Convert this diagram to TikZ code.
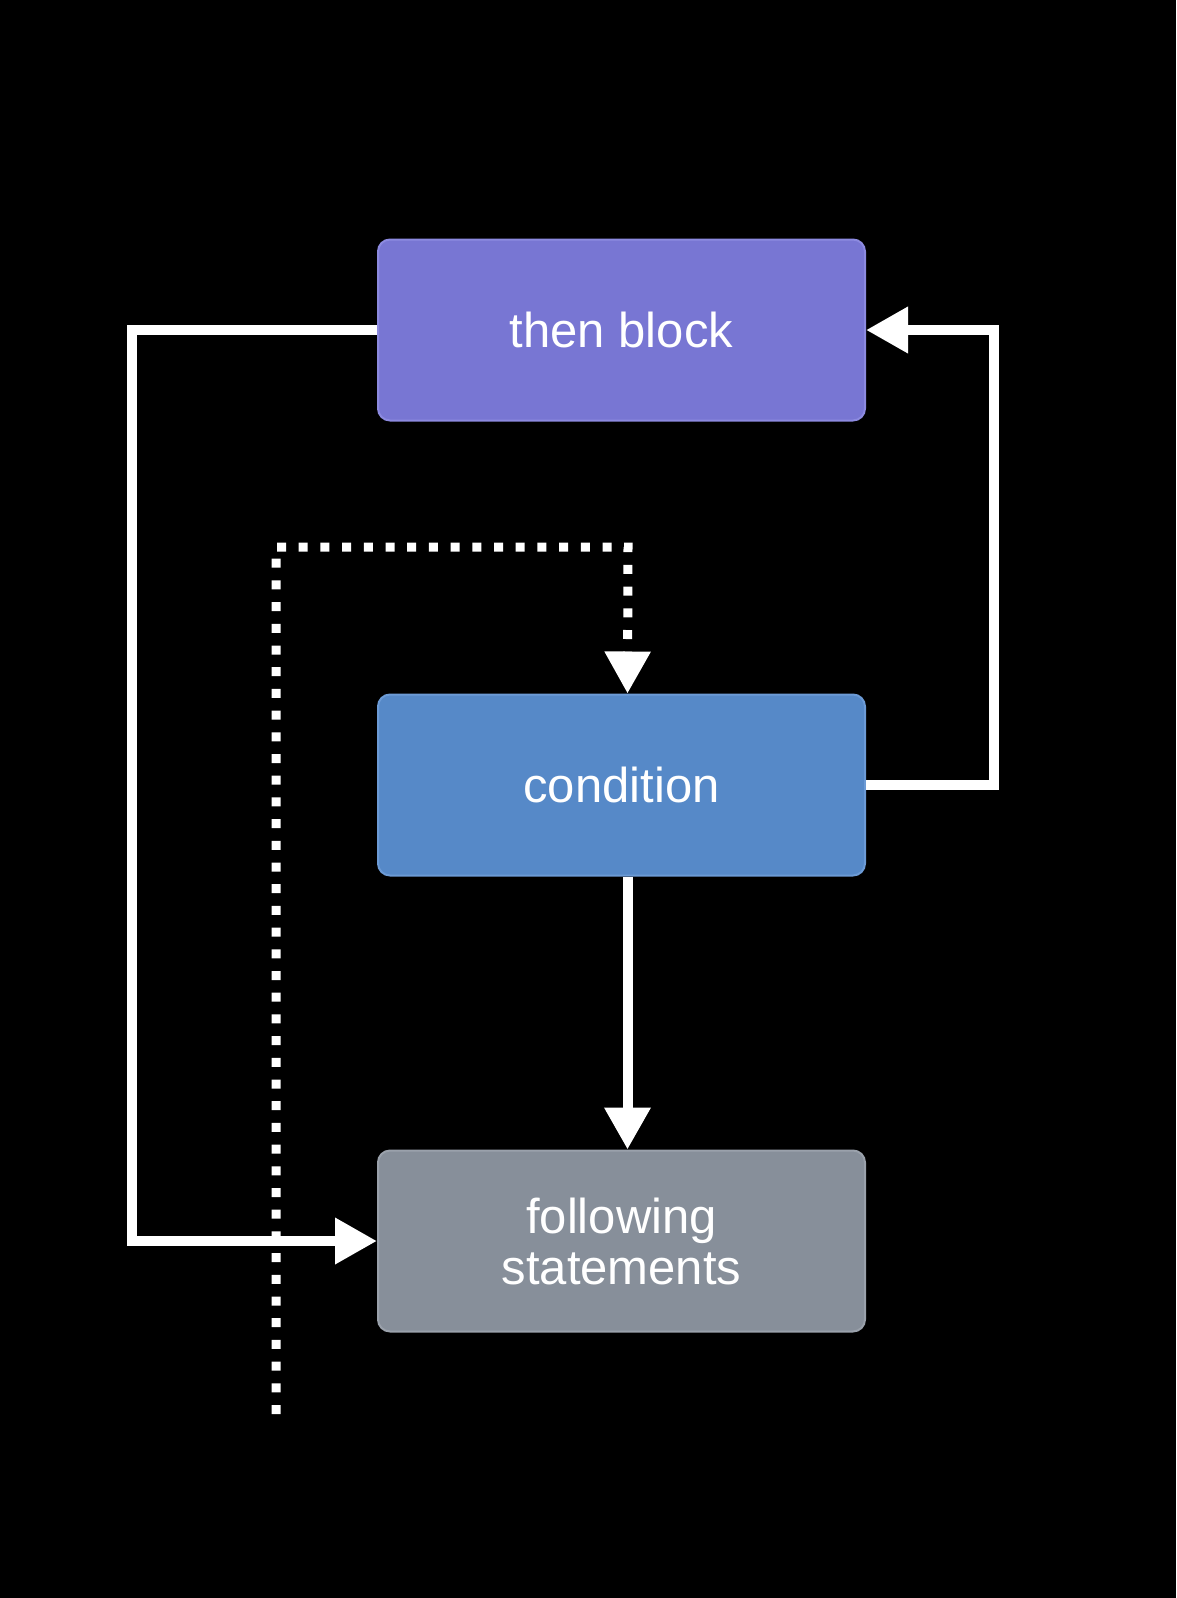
\documentclass[tikz,border=0pt]{standalone}
\usepackage{fontspec}
\setmainfont{Liberation Sans}
\usepackage{tikz}
\usetikzlibrary{arrows.meta,positioning}

\definecolor{thenfill}{HTML}{7876D3}
\definecolor{thenline}{HTML}{8C8AE0}
\definecolor{condfill}{HTML}{5689C8}
\definecolor{condline}{HTML}{6C9BD6}
\definecolor{follfill}{HTML}{878F9A}
\definecolor{follline}{HTML}{9AA1AB}

\begin{document}
\begin{tikzpicture}[x=1pt,y=-1pt,>={Triangle[width=44pt,length=42pt]},line width=10pt,
  block/.style={rectangle,rounded corners=12pt,line width=2pt,minimum width=487pt,minimum height=181pt,align=center,text=white,font=\fontsize{49}{51}\selectfont},
  flow/.style={->,white,line width=10pt},
  dotflow/.style={->,white,line width=9pt,dash pattern=on 9pt off 12.7pt}]
  \fill[black] (0,0) rectangle (1176,1598);
  \useasboundingbox (0,0) rectangle (1176,1598);

  \node[block,fill=thenfill,draw=thenline] (then) at (621.5,330) {then block};
  \node[block,fill=condfill,draw=condline] (cond) [below=272pt of then] {condition};
  \node[block,fill=follfill,draw=follline] (foll) [below=273pt of cond] {following\\statements};

  \coordinate (dotstart) at (276,1414);
  \coordinate (dottop) at (628,547);

  \draw[flow] (then.west) -- ++(-245,0) |- (foll.west);
  \draw[flow] (cond.east) -- ++(128,0) |- (then.east);
  \draw[flow] ([xshift=6pt]cond.south) -- ([xshift=6pt]foll.north);
  % gepunkteter Pfad von unten zur Bedingung
  \draw[dotflow] (dotstart) |- (dottop) -- ([xshift=6pt]cond.north);
\end{tikzpicture}
\end{document}
